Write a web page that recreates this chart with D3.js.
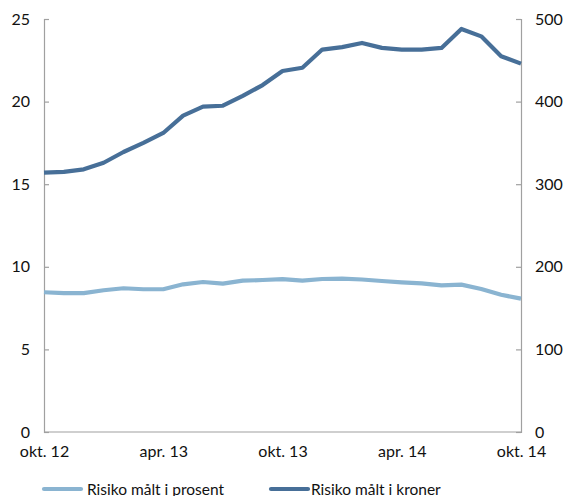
<!DOCTYPE html>
<html><head><meta charset="utf-8">
<script src="https://cdn.jsdelivr.net/npm/d3@7"></script>
<style>body{margin:0;background:#fff}svg text{font-family:"Lato","Open Sans",sans-serif !important}</style>
</head><body><svg id="c" width="566" height="496"></svg>
<script>
const months = d3.range(25);
const xTickLabels = ["okt. 12","apr. 13","okt. 13","apr. 14","okt. 14"];
const xTickIdx = [0,6,12,18,24];
const leftTicks = [0,5,10,15,20,25];
const rightTicks = [0,100,200,300,400,500];
const prosent = [8.46,8.41,8.41,8.58,8.70,8.64,8.64,8.94,9.08,8.98,9.16,9.20,9.25,9.16,9.26,9.28,9.23,9.14,9.06,9.00,8.88,8.92,8.66,8.31,8.07];
const kroner = [314,315,318,326,339,350,362,383,394,395,407,420,437,441,463,466,471,465,463,463,465,488,479,455,446];
const seriesNames = ["Risiko målt i prosent","Risiko målt i kroner"];
const colors = ["#8ab4d1","#476f98"];

const svg = d3.select("#c");
const L=44, R=521, T=19, B=432;
const x = d3.scaleLinear().domain([0,24]).range([L,R]);
const yL = d3.scaleLinear().domain([0,25]).range([B,T]);
const yR = d3.scaleLinear().domain([0,500]).range([B,T]);
const axisColor="#a0a0a0";
const FONT='Lato, "Open Sans", sans-serif';

const gl = svg.append("g").attr("transform",`translate(${L},0)`)
  .call(d3.axisLeft(yL).tickValues(leftTicks).tickSize(-5).tickPadding(14).tickFormat(d3.format("d")));
const gr = svg.append("g").attr("transform",`translate(${R},0)`)
  .call(d3.axisRight(yR).tickValues(rightTicks).tickSize(-5).tickPadding(14).tickFormat(d3.format("d")));
const gb = svg.append("g").attr("transform",`translate(0,${B})`)
  .call(d3.axisBottom(x).tickValues(xTickIdx).tickSize(0).tickPadding(14).tickFormat((d,i)=>xTickLabels[i]));
[gl,gr,gb].forEach(g=>{
  g.attr("font-family",FONT).attr("font-size",16);
  g.select(".domain").attr("stroke",axisColor).attr("stroke-width",1.2);
  g.selectAll(".tick line").attr("stroke",axisColor).attr("stroke-width",1.2);
  g.selectAll("text").attr("fill","#111").style("font-size","16px");
});
gb.select(".domain").attr("d",`M${L},0H${R}`);

const line = (ys)=>d3.line().x((d,i)=>x(months[i])).y(d=>ys(d));
svg.append("path").datum(prosent).attr("d",line(yL)).attr("fill","none").attr("stroke",colors[0]).attr("stroke-width",4.2).attr("stroke-linejoin","round");
svg.append("path").datum(kroner).attr("d",line(yR)).attr("fill","none").attr("stroke",colors[1]).attr("stroke-width",4.2).attr("stroke-linejoin","round");

const lg = [{x:44,tx:87},{x:271,tx:311}];
lg.forEach((p,i)=>{
  svg.append("line").attr("x1",p.x).attr("x2",p.x+37).attr("y1",489).attr("y2",489)
    .attr("stroke",colors[i]).attr("stroke-width",4.2).attr("stroke-linecap","round");
  svg.append("text").attr("x",p.tx).attr("y",494.5).text(seriesNames[i]).attr("fill","#111")
    .attr("font-family",FONT).style("font-size","15.5px");
});
</script></body></html>
